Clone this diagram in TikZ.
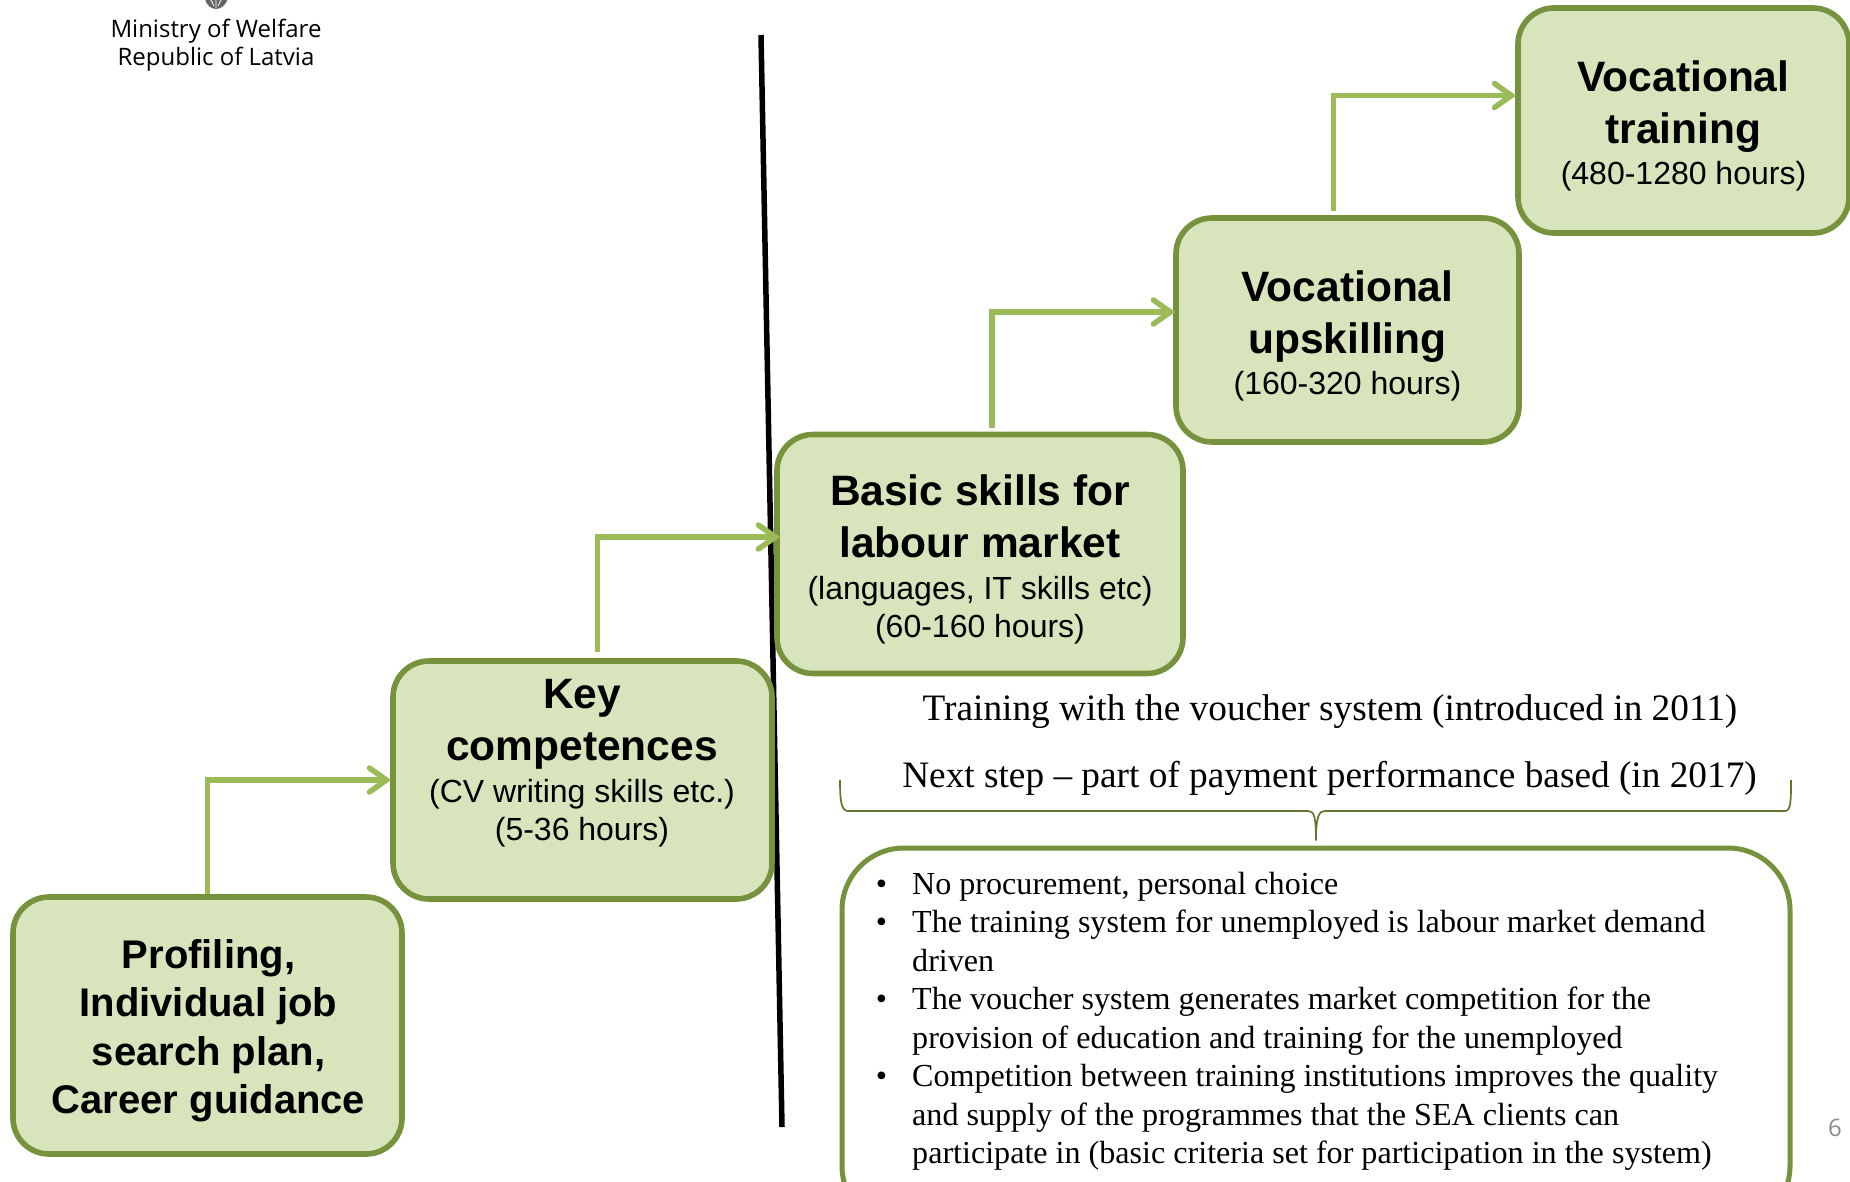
\documentclass[tikz,border=0pt]{standalone}
\usepackage{fontspec}
\setmainfont{Liberation Serif}
\newfontfamily\arialf{Liberation Sans}
\newfontfamily\minf{Open Sans}
\usetikzlibrary{arrows.meta,positioning}
\setlength{\lineskiplimit}{-200pt}
\newcommand{\hdfont}{\arialf\fontsize{42.5}{38}\selectfont\bfseries}
\newcommand{\subfont}{\arialf\fontsize{32}{38}\selectfont\mdseries}
\newcommand{\proffont}{\arialf\fontsize{40}{48.5}\selectfont\bfseries}
\newcommand{\bul}{\makebox[0pt][r]{•\hspace{25pt}}}
\definecolor{boxfill}{HTML}{D8E4BC}
\definecolor{boxline}{HTML}{76923C}
\definecolor{arrowgreen}{HTML}{9BBB59}
\definecolor{bracegreen}{HTML}{5F7530}
\tikzset{
  greenbox/.style={draw=boxline,fill=boxfill,line width=5.6pt,rounded corners=36pt,inner sep=0pt},
  boxtext/.style={align=center,inner sep=0pt,font=\fontsize{32}{38}\selectfont},
  steparrow/.style={draw=arrowgreen,line width=5.5pt,-{Straight Barb[length=17pt,width=24pt,line cap=round]}},
  serifline/.style={font=\fontsize{37.3}{41}\selectfont,inner sep=0pt},
}
\begin{document}
\begin{tikzpicture}[x=1pt,y=-1pt]
\clip (0,0) rectangle (1850,1181);
\useasboundingbox (0,0) rectangle (1850,1181);
% logo
\fill[black!60] (205,-2) .. controls (206,6) and (212,9) .. (216,9) .. controls (220,9) and (226,6) .. (228,-2) -- cycle;
\draw[white,line width=0.8pt] (211,0) -- (214,6) (216,0) -- (216,8) (221,0) -- (218,6);
\node[font=\fontsize{24}{28}\selectfont,align=center,inner sep=0pt] (ministry) at (216,45.5) {\minf\fontsize{24}{28}\selectfont Ministry of Welfare\\\minf\fontsize{24}{28}\selectfont Republic of Latvia};
% divider
\draw[line width=5.5pt,black] (761,35) coordinate (divtop) -- (782,1127) coordinate (divbot);
% boxes
\node[greenbox,minimum width=389pt,minimum height=257pt] (prof) at (207.5,1025.5) {};
\node[greenbox,minimum width=379pt,minimum height=238pt] (key) at (582.5,780) {};
\node[greenbox,minimum width=406pt,minimum height=239pt] (basic) at (980,554) {};
\node[greenbox,minimum width=343pt,minimum height=224pt] (upskill) at (1347.5,330) {};
\node[greenbox,minimum width=331pt,minimum height=225pt] (train) at (1683.5,120.5) {};
% texts
\node[boxtext,font=\fontsize{40}{48.5}\selectfont] (proft) at (208.5,1030.5) {\proffont Profiling,\\\proffont Individual job\\\proffont search plan,\\\proffont Career guidance};
\node[boxtext] (keyt) at (582,763.3) {\hdfont Key\\[14pt]\hdfont competences\\[3.5pt]\subfont (CV writing skills etc.)\\\subfont (5-36 hours)};
\node[boxtext] (basict) at (980,559.6) {\hdfont Basic skills for\\[14pt]\hdfont labour market\\[3.5pt]\subfont (languages, IT skills etc)\\\subfont (60-160 hours)};
\node[boxtext] (upskillt) at (1347.5,336) {\hdfont Vocational\\[14pt]\hdfont upskilling\\[3.5pt]\subfont (160-320 hours)};
\node[boxtext] (traint) at (1683.5,126) {\hdfont Vocational\\[14pt]\hdfont training\\[3.5pt]\subfont (480-1280 hours)};
% arrows
\draw[steparrow] (prof.north) |- ([xshift=1pt]key.west);
\draw[steparrow] ([xshift=15pt,yshift=6pt]key.north) |- ([xshift=6pt,yshift=17pt]basic.west);
\draw[steparrow] ([xshift=12pt,yshift=4pt]basic.north) |- ([xshift=2pt,yshift=18pt]upskill.west);
\draw[steparrow] ([xshift=-14pt,yshift=4pt]upskill.north) |- ([xshift=1pt,yshift=25pt]train.west);
% voucher text
\node[serifline] (voucher) at (1330,711.5) {Training with the voucher system (introduced in 2011)};
\node[serifline] (next) at (1329.5,778.5) {Next step – part of payment performance based (in 2017)};
% lower box
\node[draw=boxline,fill=white,line width=5pt,rounded corners=62pt,minimum width=948pt,minimum height=380pt] (points) at (1316,1038) {};
% brace
\coordinate (bracetip) at (points.north);
\draw[bracegreen,line width=1.7pt] (840,780) .. controls (840,800) and (841,811) .. (848,811) -- (1308,811) .. controls (1314,811) and (1316,816) .. ([yshift=5pt]bracetip) .. controls (1316,816) and (1319,811) .. (1325,811) -- (1785,811) .. controls (1791,811) and (1791,800) .. (1791,780);
% bullets
\node[align=left,inner sep=0pt,anchor=west,font=\fontsize{32.1}{38.5}\selectfont] (pointst) at (912,1021.5) {\bul No procurement, personal choice\\
\bul The training system for unemployed is labour market demand\\
driven\\
\bul The voucher system generates market competition for the\\
provision of education and training for the unemployed\\
\bul Competition between training institutions improves the quality\\
and supply of the programmes that the SEA clients can\\
participate in (basic criteria set for participation in the system)};
% page number
\node[font=\fontsize{24}{28}\selectfont,inner sep=0pt] (pagenum) at (1835,1128) {\minf\color{black!45}6};
\end{tikzpicture}
\end{document}
